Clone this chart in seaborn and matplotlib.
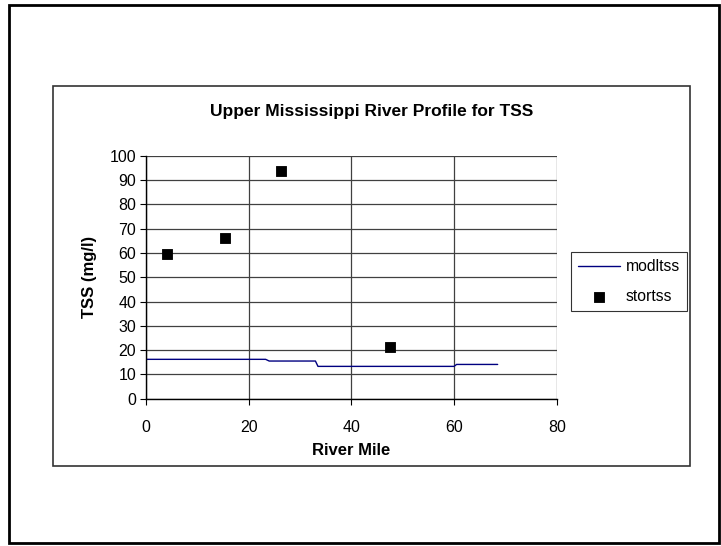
import matplotlib
matplotlib.use("Agg")
import matplotlib.pyplot as plt
import seaborn as sns
import pandas as pd
from matplotlib.patches import Rectangle

sns.set_theme(style="white")
plt.rcParams['font.family'] = ['Liberation Sans', 'DejaVu Sans']
plt.rcParams['text.color'] = 'black'
plt.rcParams['axes.labelcolor'] = 'black'
plt.rcParams['xtick.color'] = 'black'
plt.rcParams['ytick.color'] = 'black'

# modelled TSS profile (step line)
mod_mile = [0, 23.3, 24.0, 33.0, 33.5, 60.0, 60.5, 68.5]
mod_tss = [16.2, 16.2, 15.5, 15.5, 13.3, 13.3, 14.1, 14.1]
# observed (STORET) TSS
obs_mile = [4.0, 15.3, 26.2, 47.6]
obs_tss = [59.7, 66.2, 93.7, 21.4]

x_ticks = [0, 20, 40, 60, 80]
y_ticks = [0, 10, 20, 30, 40, 50, 60, 70, 80, 90, 100]

mod_df = pd.DataFrame({"mile": mod_mile, "tss": mod_tss})
obs_df = pd.DataFrame({"mile": obs_mile, "tss": obs_tss})

fig = plt.figure(figsize=(7.21, 5.46), dpi=100)
W, H = 721, 546

# outer and inner borders
fig.patches.append(Rectangle((8.5 / W, 3 / H), (719 - 8.5) / W, (541 - 3) / H,
                             transform=fig.transFigure, fill=False,
                             edgecolor='black', linewidth=2.0))
fig.patches.append(Rectangle((53.5 / W, (546 - 466) / H), (689.5 - 53.5) / W, (466 - 86) / H,
                             transform=fig.transFigure, fill=False,
                             edgecolor='#333333', linewidth=1.2))

ax = fig.add_axes([146 / W, (546 - 398.7) / H, (556.7 - 146) / W, (398.7 - 155.7) / H])

sns.lineplot(data=mod_df, x="mile", y="tss", ax=ax, color='#000080', linewidth=1.0,
             label='modltss', estimator=None, sort=False)
sns.scatterplot(data=obs_df, x="mile", y="tss", ax=ax, color='black', marker='s',
                s=60, edgecolor='black', label='stortss', zorder=5)

ax.set_xlim(0, 80)
ax.set_ylim(0, 100)
ax.set_xticks(x_ticks)
ax.set_yticks(y_ticks)
ax.tick_params(axis='both', labelsize=11.5, colors='black', length=4, width=0.8,
               direction='out', left=True, bottom=True)
ax.tick_params(axis='x', pad=11)
ax.tick_params(axis='y', pad=3)
ax.grid(True, color='#404040', linewidth=0.9)
ax.set_axisbelow(True)
for s in ['top', 'right']:
    ax.spines[s].set_visible(False)
for s in ['left', 'bottom']:
    ax.spines[s].set_color('black')
    ax.spines[s].set_linewidth(1.0)

ax.set_xlabel('River Mile', fontsize=12, fontweight='bold', labelpad=6)
ax.set_ylabel('TSS (mg/l)', fontsize=12, fontweight='bold', labelpad=9)

fig.text(0.5 * (53.5 + 689.5) / W, (546 - 111) / H, 'Upper Mississippi River Profile for TSS',
         ha='center', va='center', fontsize=12.5, fontweight='bold')

leg = ax.legend(loc='upper left', bbox_to_anchor=(571 / W, (546 - 252) / H),
                bbox_transform=fig.transFigure, frameon=True, fancybox=False,
                fontsize=11.3, handlelength=2.7, borderpad=0.45, labelspacing=0.95,
                handletextpad=0.35, borderaxespad=0)
leg.get_frame().set_edgecolor('black')
leg.get_frame().set_linewidth(0.8)

fig.savefig('out.png', dpi=100)
